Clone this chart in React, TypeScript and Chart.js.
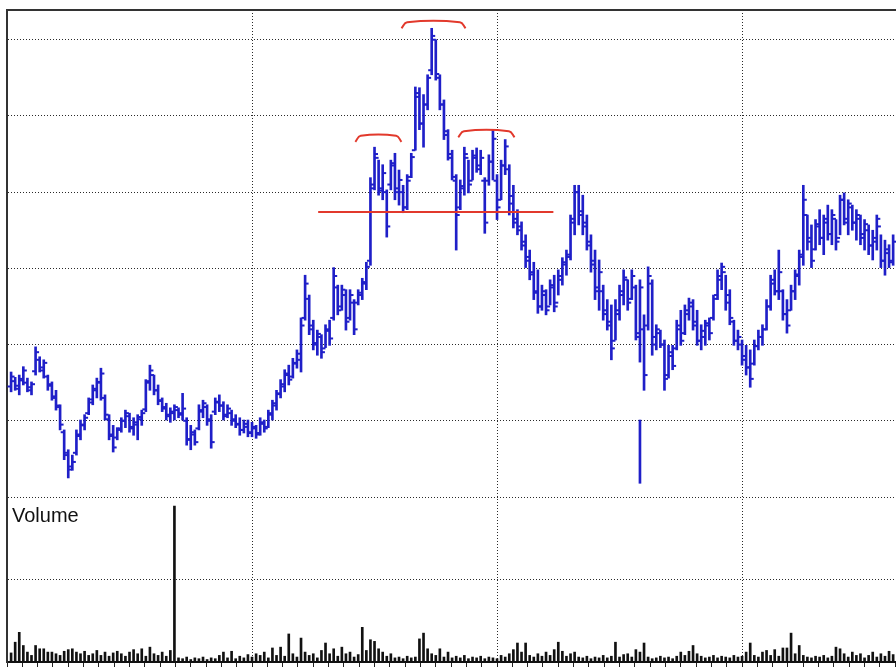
import React, { useEffect, useRef } from "react";
import { Chart, registerables } from "chart.js";

Chart.register(...registerables);

// ---- price bars (one entry per trading day, oldest first) ----
const highs = [
  16.4, 15.7, 16.0, 17.1, 15.6, 15.1, 19.7, 18.4, 18.0, 16.0,
  15.1, 14.0, 12.1, 8.8, 6.2, 5.5, 8.8, 10.1, 10.8, 13.0,
  14.7, 15.6, 16.9, 13.4, 10.8, 9.4, 9.1, 10.4, 11.4, 11.0,
  10.4, 10.8, 11.4, 15.4, 17.3, 16.0, 14.7, 13.0, 12.3, 11.7,
  12.1, 11.7, 13.6, 10.4, 9.4, 8.8, 12.1, 12.7, 12.1, 10.8,
  13.0, 13.4, 12.5, 12.1, 11.4, 10.8, 10.4, 10.1, 10.1, 9.8,
  9.4, 10.4, 10.1, 11.4, 12.7, 14.0, 15.4, 16.7, 17.3, 18.2,
  19.3, 23.5, 29.1, 26.5, 23.2, 21.9, 21.3, 22.6, 23.2, 30.1,
  27.8, 27.8, 27.2, 27.2, 25.9, 27.2, 28.7, 30.8, 41.9, 45.9,
  44.2, 43.6, 40.3, 44.2, 45.1, 42.9, 40.9, 42.3, 45.1, 53.8,
  53.7, 52.8, 55.4, 61.5, 60.0, 55.4, 52.1, 48.2, 45.5, 42.3,
  41.6, 45.9, 44.2, 45.5, 45.8, 45.5, 41.9, 44.9, 48.2, 42.3,
  44.2, 46.9, 43.6, 40.9, 37.7, 36.1, 34.4, 32.4, 30.8, 29.8,
  27.8, 27.2, 28.5, 29.1, 29.8, 31.4, 32.4, 37.0, 40.9, 40.9,
  39.6, 37.0, 34.4, 32.4, 31.1, 27.8, 25.9, 25.2, 25.9, 27.8,
  29.8, 28.5, 29.8, 27.8, 28.5, 23.9, 30.2, 28.5, 22.6, 21.9,
  20.6, 19.9, 19.9, 23.2, 24.5, 25.2, 26.1, 25.9, 24.5, 22.6,
  23.2, 23.5, 26.5, 29.8, 30.7, 29.1, 27.2, 23.2, 21.9, 20.6,
  19.9, 19.3, 20.6, 21.9, 22.6, 25.9, 29.1, 29.8, 32.4, 27.2,
  25.9, 27.8, 29.8, 32.4, 40.9, 37.0, 35.7, 36.4, 37.7, 37.0,
  38.3, 37.7, 36.4, 39.6, 39.9, 39.0, 38.3, 37.7, 37.0, 36.4,
  35.7, 35.0, 37.0, 34.4, 33.7, 33.1, 34.4,
];

const lows = [
  13.8, 14.0, 13.4, 14.7, 13.8, 13.4, 16.0, 16.4, 15.6, 14.0,
  12.7, 11.4, 8.8, 4.9, 2.5, 3.5, 5.5, 7.5, 8.8, 10.8,
  12.1, 13.0, 12.7, 10.1, 7.5, 5.9, 7.5, 8.5, 9.1, 8.5,
  8.1, 7.5, 9.4, 11.2, 14.0, 13.4, 12.1, 11.2, 10.1, 9.8,
  10.1, 10.4, 10.1, 6.8, 6.2, 6.8, 8.8, 10.4, 9.4, 6.4,
  10.8, 11.2, 10.1, 10.4, 9.4, 9.1, 8.1, 8.4, 7.9, 7.9,
  7.7, 8.1, 8.5, 9.1, 10.1, 11.4, 13.0, 13.8, 14.7, 15.6,
  16.9, 16.4, 23.2, 21.3, 19.3, 18.6, 18.2, 19.6, 19.9, 23.2,
  23.9, 24.5, 21.9, 23.2, 21.3, 25.2, 25.9, 27.2, 30.4, 40.3,
  39.6, 39.0, 34.1, 40.3, 39.0, 38.3, 37.3, 37.7, 41.9, 45.5,
  48.2, 45.9, 50.8, 55.4, 54.7, 50.8, 46.9, 44.2, 41.6, 32.4,
  37.7, 39.6, 39.9, 41.6, 42.6, 42.3, 34.6, 40.9, 41.6, 36.4,
  39.0, 42.3, 37.0, 35.3, 34.4, 32.4, 30.1, 28.5, 25.9, 24.1,
  24.5, 23.9, 25.2, 24.3, 26.5, 27.8, 29.1, 31.1, 34.4, 35.7,
  34.4, 32.4, 29.5, 25.9, 24.5, 23.2, 21.9, 18.0, 20.6, 23.2,
  25.2, 24.5, 25.9, 20.6, 17.7, 14.0, 21.9, 18.6, 19.3, 19.6,
  14.0, 15.6, 16.7, 19.3, 19.9, 21.3, 23.2, 21.9, 19.9, 19.3,
  19.9, 20.6, 23.2, 25.9, 27.2, 24.5, 22.6, 19.9, 19.3, 17.3,
  16.0, 14.4, 17.3, 19.3, 19.9, 21.9, 24.5, 26.5, 25.9, 23.2,
  21.5, 24.5, 25.9, 27.8, 30.4, 32.4, 30.1, 32.4, 33.1, 31.8,
  33.7, 33.1, 32.4, 34.4, 35.7, 34.4, 35.0, 33.7, 33.1, 32.4,
  31.8, 31.1, 32.4, 30.1, 29.1, 30.1, 30.4,
];

const opens = [
  14.5, 15.2, 14.2, 15.5, 15.0, 14.0, 16.5, 18.0, 16.6, 15.8,
  14.6, 13.0, 11.8, 8.5, 5.5, 4.0, 5.8, 8.2, 9.4, 11.0,
  12.8, 14.0, 15.0, 13.0, 10.2, 8.2, 7.8, 9.0, 10.0, 10.6,
  9.0, 9.5, 10.2, 11.5, 15.2, 16.0, 14.0, 12.7, 11.8, 10.6,
  11.0, 11.4, 11.0, 10.0, 7.6, 8.2, 9.0, 11.2, 11.8, 10.2,
  11.2, 12.4, 12.0, 10.8, 11.0, 10.2, 9.6, 8.8, 9.2, 8.5,
  9.0, 8.4, 9.6, 9.2, 10.8, 12.0, 13.5, 14.5, 16.0, 15.8,
  17.5, 18.0, 23.5, 26.0, 22.5, 20.2, 21.0, 19.5, 21.8, 23.5,
  27.5, 25.0, 26.5, 23.5, 25.5, 25.5, 26.5, 28.0, 31.0, 41.0,
  44.5, 40.2, 40.0, 41.0, 43.5, 40.5, 40.0, 38.0, 42.0, 45.5,
  52.5, 49.0, 51.5, 56.0, 60.0, 55.0, 51.5, 48.0, 44.5, 41.5,
  38.0, 40.5, 44.5, 41.5, 44.5, 43.0, 41.5, 41.5, 44.0, 41.5,
  39.0, 43.5, 43.0, 39.5, 36.5, 35.5, 33.5, 31.5, 29.5, 27.0,
  25.0, 26.5, 25.0, 27.5, 25.5, 28.5, 30.5, 31.5, 36.0, 40.0,
  37.5, 36.0, 33.5, 31.0, 27.5, 27.0, 24.5, 23.0, 20.5, 24.0,
  26.5, 28.5, 26.0, 27.5, 21.0, 22.0, 22.5, 28.0, 20.0, 21.5,
  20.0, 16.0, 18.5, 19.5, 22.0, 21.5, 24.0, 25.0, 23.0, 20.5,
  21.0, 22.5, 23.5, 26.5, 28.5, 29.5, 26.5, 23.0, 20.5, 20.0,
  18.5, 17.0, 17.5, 19.8, 21.0, 22.0, 25.0, 28.0, 27.0, 27.0,
  24.0, 24.5, 27.0, 29.0, 31.5, 37.0, 33.5, 32.5, 35.5, 34.0,
  36.0, 34.5, 36.5, 34.0, 39.0, 36.0, 38.0, 36.0, 36.5, 34.5,
  35.0, 33.0, 33.5, 35.5, 31.0, 32.0, 31.0,
];

const closes = [
  15.8, 14.6, 15.3, 16.6, 14.4, 14.8, 19.0, 17.0, 17.6, 14.8,
  13.2, 12.0, 9.5, 5.8, 3.6, 4.6, 8.0, 9.5, 10.4, 12.4,
  14.2, 15.1, 16.2, 10.8, 8.0, 6.5, 8.8, 10.0, 11.0, 9.2,
  9.8, 10.5, 11.0, 15.0, 16.6, 14.0, 12.6, 11.6, 10.8, 11.2,
  11.8, 10.8, 11.6, 7.5, 8.5, 7.2, 11.4, 12.3, 10.0, 7.2,
  12.5, 12.0, 10.6, 11.6, 10.0, 9.5, 8.8, 9.6, 8.4, 9.2,
  8.2, 9.8, 9.0, 11.0, 12.3, 13.6, 14.8, 16.2, 15.4, 17.6,
  18.8, 22.5, 28.0, 22.0, 20.0, 21.4, 19.0, 22.0, 20.8, 29.0,
  24.5, 27.2, 23.0, 26.5, 22.0, 26.8, 28.2, 30.2, 40.5, 45.0,
  40.5, 42.5, 35.5, 43.8, 40.0, 41.6, 38.0, 41.5, 44.6, 53.0,
  49.0, 51.5, 55.0, 60.5, 55.5, 51.5, 47.5, 45.0, 42.0, 37.0,
  40.8, 45.0, 41.0, 44.8, 43.5, 44.5, 36.0, 44.0, 47.0, 38.0,
  43.5, 46.0, 38.5, 36.0, 35.0, 33.0, 31.0, 29.2, 26.8, 25.0,
  27.0, 24.5, 27.8, 25.0, 29.0, 30.8, 31.8, 36.5, 40.0, 37.0,
  35.5, 33.0, 30.5, 27.0, 29.5, 24.0, 22.5, 19.5, 24.5, 27.0,
  28.8, 25.5, 29.0, 21.5, 27.5, 16.0, 29.0, 21.0, 22.0, 20.0,
  15.5, 19.0, 17.2, 22.5, 20.5, 24.5, 25.5, 22.5, 20.5, 21.8,
  22.8, 21.5, 26.0, 29.0, 30.2, 25.5, 23.5, 20.5, 21.0, 18.0,
  17.0, 15.5, 19.8, 21.0, 22.0, 25.0, 28.5, 27.0, 29.5, 24.0,
  22.5, 27.0, 29.2, 31.8, 39.0, 34.0, 31.0, 35.8, 34.0, 36.5,
  34.5, 37.0, 33.5, 39.0, 36.5, 38.5, 36.0, 37.0, 34.0, 35.8,
  33.0, 34.0, 36.5, 31.0, 32.5, 30.8, 33.5,
];

const volumes = [
  0.11, 0.24, 0.36, 0.2, 0.12, 0.08, 0.2, 0.16, 0.16, 0.12,
  0.12, 0.1, 0.08, 0.13, 0.15, 0.16, 0.12, 0.1, 0.13, 0.08,
  0.1, 0.14, 0.08, 0.12, 0.07, 0.11, 0.13, 0.1, 0.07, 0.12,
  0.15, 0.1, 0.16, 0.07, 0.18, 0.1, 0.08, 0.12, 0.07, 0.14,
  1.89, 0.05, 0.04, 0.06, 0.03, 0.05, 0.04, 0.06, 0.03, 0.05,
  0.04, 0.08, 0.12, 0.05, 0.13, 0.04, 0.07, 0.05, 0.09, 0.06,
  0.1, 0.08, 0.12, 0.05, 0.17, 0.08, 0.18, 0.07, 0.34, 0.1,
  0.06, 0.29, 0.12, 0.08, 0.1, 0.05, 0.14, 0.23, 0.1, 0.16,
  0.07, 0.18, 0.1, 0.12, 0.06, 0.09, 0.42, 0.14, 0.27, 0.25,
  0.16, 0.12, 0.07, 0.1, 0.05, 0.06, 0.04, 0.07, 0.05, 0.06,
  0.28, 0.35, 0.16, 0.1, 0.08, 0.16, 0.06, 0.12, 0.05, 0.07,
  0.05, 0.08, 0.04, 0.06, 0.05, 0.07, 0.04, 0.06, 0.05, 0.04,
  0.08, 0.06, 0.1, 0.15, 0.23, 0.12, 0.23, 0.08, 0.06, 0.1,
  0.07, 0.12, 0.08, 0.15, 0.24, 0.13, 0.07, 0.1, 0.12, 0.06,
  0.05, 0.07, 0.04, 0.06, 0.05, 0.08, 0.05, 0.07, 0.24, 0.06,
  0.09, 0.1, 0.06, 0.15, 0.12, 0.23, 0.06, 0.04, 0.05, 0.07,
  0.05, 0.06, 0.04, 0.07, 0.12, 0.08, 0.13, 0.2, 0.1, 0.07,
  0.05, 0.06, 0.08, 0.05, 0.07, 0.06, 0.05, 0.08, 0.06, 0.07,
  0.12, 0.23, 0.08, 0.06, 0.12, 0.14, 0.08, 0.15, 0.07, 0.17,
  0.17, 0.35, 0.1, 0.2, 0.08, 0.06, 0.05, 0.07, 0.06, 0.08,
  0.05, 0.07, 0.18, 0.16, 0.1, 0.06, 0.12, 0.08, 0.1, 0.05,
  0.08, 0.12, 0.06, 0.1, 0.07, 0.13, 0.09,
];

// stray print below the price pane (day index, low, high)
const strayBarDay = 155;
const strayBarRange = [1.8, 10.1];

// red head-and-shoulders annotations, in (day, price) terms
const necklineDays = [76.2, 133.8];
const necklinePrice = 37.4;
const leftShoulderArc = [
  [85.3, 46.6], [86.6, 47.4], [95.3, 47.4], [96.6, 46.6],
];
const headArc = [
  [96.6, 61.5], [98.0, 62.3], [110.9, 62.3], [112.3, 61.5],
];
const rightShoulderArc = [
  [110.5, 47.2], [111.9, 48.0], [122.9, 48.0], [124.3, 47.2],
];

const volumeLabelText = "Volume";

// axis extents
const DAY_MAX = 217.7;
const GRID_DAYS = 60;
const TICK_DAYS = 3.75;
const PRICE_MAX = 63.9;
const PRICE_STEP = 10;
const VOLUME_MAX = 2;
const VOLUME_STEP = 1;

const BLUE = "#1f1fc8";
const RED = "#e2392c";
const GRID = "#2a2a2a";

export default function App() {
  const ref = useRef<HTMLCanvasElement | null>(null);

  useEffect(() => {
    if (!ref.current) return;
    const hl = highs.map((h, k) => ({ x: k + 1, y: [lows[k], h] }));
    const op = opens.map((o, k) => ({ x: k + 1, y: o }));
    const cl = closes.map((c, k) => ({ x: k + 1, y: c }));
    const vol = volumes.map((v, k) => ({ x: k + 1, y: v }));
    const arc = (pts: number[][]) => pts.map(([x, y]) => ({ x, y }));

    const volumeLabel = {
      id: "volumeLabel",
      afterDatasetsDraw(chart: any) {
        const yv = chart.scales.yv;
        const c = chart.ctx;
        c.save();
        c.font = '20px "Liberation Sans", Arial, sans-serif';
        c.fillStyle = "#111";
        c.textBaseline = "alphabetic";
        c.fillText(volumeLabelText, chart.chartArea.left + 5, yv.top + 25);
        c.restore();
      },
    };

    const lineDs = (data: any[], tension: number) => ({
      type: "line" as const,
      data,
      xAxisID: "x",
      yAxisID: "y",
      borderColor: RED,
      borderWidth: 2,
      pointRadius: 0,
      fill: false,
      tension,
      order: 0,
    });

    const chart = new Chart(ref.current, {
      type: "bar",
      data: {
        datasets: [
          lineDs(
            necklineDays.map((d) => ({ x: d, y: necklinePrice })),
            0
          ),
          lineDs(arc(leftShoulderArc), 0.4),
          lineDs(arc(headArc), 0.4),
          lineDs(arc(rightShoulderArc), 0.4),
          {
            type: "scatter",
            data: op,
            xAxisID: "x",
            yAxisID: "y",
            pointStyle: "dash",
            pointRotation: 180,
            pointRadius: 3.5,
            pointBorderWidth: 2,
            pointBorderColor: BLUE,
            pointBackgroundColor: BLUE,
            showLine: false,
            order: 1,
          } as any,
          {
            type: "scatter",
            data: cl,
            xAxisID: "x",
            yAxisID: "y",
            pointStyle: "dash",
            pointRotation: 0,
            pointRadius: 3.5,
            pointBorderWidth: 2,
            pointBorderColor: BLUE,
            pointBackgroundColor: BLUE,
            showLine: false,
            order: 1,
          } as any,
          {
            type: "bar",
            data: hl as any,
            xAxisID: "x",
            yAxisID: "y",
            backgroundColor: BLUE,
            borderWidth: 0,
            barThickness: 2,
            grouped: false,
            order: 2,
          },
          {
            type: "bar",
            data: [{ x: strayBarDay, y: strayBarRange }] as any,
            xAxisID: "x",
            yAxisID: "y",
            backgroundColor: BLUE,
            borderWidth: 0,
            barThickness: 2,
            grouped: false,
            order: 2,
          },
          {
            type: "bar",
            data: vol as any,
            xAxisID: "x",
            yAxisID: "yv",
            backgroundColor: "#111",
            borderWidth: 0,
            barThickness: 2,
            grouped: false,
            order: 3,
          },
        ],
      },
      options: {
        responsive: false,
        animation: false,
        events: [],
        layout: {
          autoPadding: false,
          padding: { left: 7, top: 10, right: 0, bottom: 1 },
        },
        plugins: {
          legend: { display: false },
          tooltip: { enabled: false },
          title: { display: false },
        },
        scales: {
          xt: {
            type: "linear",
            position: "top",
            min: 0,
            max: DAY_MAX,
            offset: false,
            ticks: { display: false },
            grid: { display: false, drawTicks: false, offset: false },
            border: { display: true, color: "#333", width: 2 },
          },
          x: {
            type: "linear",
            position: "bottom",
            min: 0,
            max: DAY_MAX,
            offset: false,
            ticks: { display: false, stepSize: GRID_DAYS, includeBounds: false },
            grid: { color: GRID, lineWidth: 1, drawTicks: false, offset: false },
            border: { display: false, dash: [1, 2] },
          },
          x2: {
            type: "linear",
            position: "bottom",
            min: 0,
            max: DAY_MAX,
            offset: false,
            ticks: { display: false, stepSize: TICK_DAYS, includeBounds: false },
            grid: {
              offset: false,
              drawOnChartArea: false,
              drawTicks: true,
              tickLength: 5,
              color: "#222",
              lineWidth: 1,
            },
            border: { display: true, color: "#111", width: 2 },
          },
          yv: {
            type: "linear",
            position: "left",
            stack: "pane",
            stackWeight: 165,
            min: 0,
            max: VOLUME_MAX,
            offset: false,
            ticks: { display: false, stepSize: VOLUME_STEP, includeBounds: false },
            grid: {
              drawTicks: false,
              lineWidth: 1,
              color: (c: any) =>
                c.tick && c.tick.value === 0 ? "rgba(0,0,0,0)" : GRID,
            },
            border: { display: true, color: "#333", width: 2, dash: [1, 2] },
          },
          y: {
            type: "linear",
            position: "left",
            stack: "pane",
            stackWeight: 487,
            min: 0,
            max: PRICE_MAX,
            offset: false,
            ticks: { display: false, stepSize: PRICE_STEP, includeBounds: false },
            grid: {
              drawTicks: false,
              lineWidth: 1,
              color: (c: any) =>
                c.tick && c.tick.value === 0 ? "rgba(0,0,0,0)" : GRID,
            },
            border: { display: true, color: "#333", width: 2, dash: [1, 2] },
          },
        } as any,
      },
      plugins: [volumeLabel],
    });

    return () => chart.destroy();
  }, []);

  return (
    <div
      style={{
        position: "fixed",
        left: 0,
        top: 0,
        width: 896,
        height: 668,
        background: "#fff",
      }}
    >
      <canvas ref={ref} width={896} height={668} style={{ display: "block" }} />
    </div>
  );
}
